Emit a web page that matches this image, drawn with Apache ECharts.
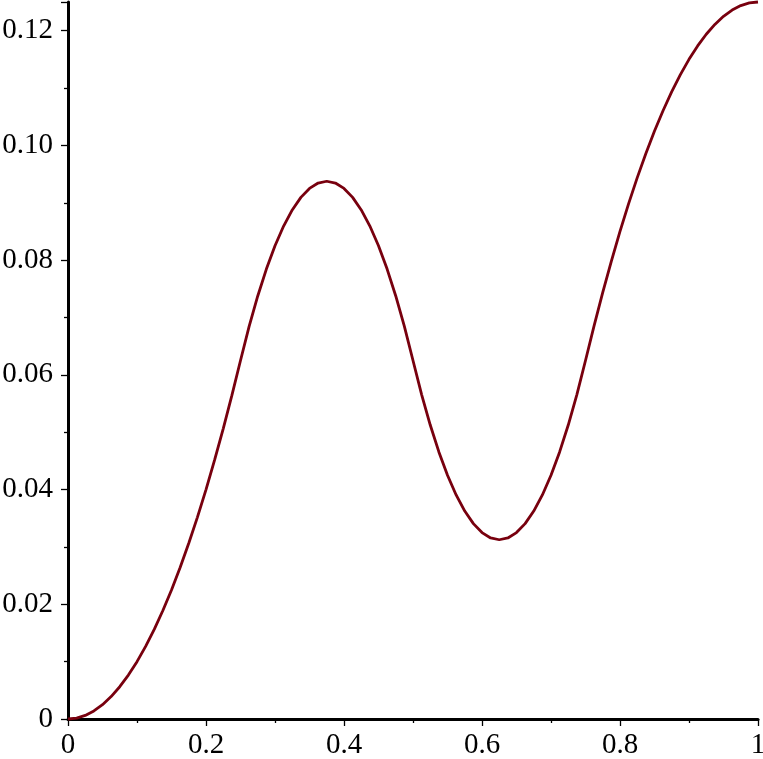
<!DOCTYPE html>
<html>
<head>
<meta charset="utf-8">
<script src="https://cdn.jsdelivr.net/npm/echarts@6/dist/echarts.min.js"></script>
<style>
  html, body { margin: 0; padding: 0; background: #ffffff; overflow: hidden; }
  #chart { width: 763px; height: 759px; }
</style>
</head>
<body>
<div id="chart"></div>
<script>
// x positions (read along the horizontal axis, every 0.0125)
const xValues = [
  0, 0.0125, 0.025, 0.0375, 0.05, 0.0625, 0.075, 0.0875, 0.1, 0.1125,
  0.125, 0.1375, 0.15, 0.1625, 0.175, 0.1875, 0.2, 0.2125, 0.225, 0.2375,
  0.25, 0.2625, 0.275, 0.2875, 0.3, 0.3125, 0.325, 0.3375, 0.35, 0.3625,
  0.375, 0.3875, 0.4, 0.4125, 0.425, 0.4375, 0.45, 0.4625, 0.475, 0.4875,
  0.5, 0.5125, 0.525, 0.5375, 0.55, 0.5625, 0.575, 0.5875, 0.6, 0.6125,
  0.625, 0.6375, 0.65, 0.6625, 0.675, 0.6875, 0.7, 0.7125, 0.725, 0.7375,
  0.75, 0.7625, 0.775, 0.7875, 0.8, 0.8125, 0.825, 0.8375, 0.85, 0.8625,
  0.875, 0.8875, 0.9, 0.9125, 0.925, 0.9375, 0.95, 0.9625, 0.975, 0.9875, 1
];
// curve heights
const yValues = [
  0, 0.00016, 0.00063, 0.00141, 0.0025, 0.00391, 0.00563, 0.00766, 0.01, 0.01266,
  0.01563, 0.01891, 0.0225, 0.02641, 0.03063, 0.03516, 0.04, 0.04516, 0.05063, 0.05641,
  0.0625, 0.06844, 0.07375, 0.07844, 0.0825, 0.08594, 0.08875, 0.09094, 0.0925, 0.09344,
  0.09375, 0.09344, 0.0925, 0.09094, 0.08875, 0.08594, 0.0825, 0.07844, 0.07375, 0.06844,
  0.0625, 0.05656, 0.05125, 0.04656, 0.0425, 0.03906, 0.03625, 0.03406, 0.0325, 0.03156,
  0.03125, 0.03156, 0.0325, 0.03406, 0.03625, 0.03906, 0.0425, 0.04656, 0.05125, 0.05656,
  0.0625, 0.06859, 0.07438, 0.07984, 0.085, 0.08984, 0.09438, 0.09859, 0.1025, 0.10609,
  0.10938, 0.11234, 0.115, 0.11734, 0.11938, 0.12109, 0.1225, 0.12359, 0.12438, 0.12484, 0.125
];
const xTickLabels = ['0', '0.2', '0.4', '0.6', '0.8', '1'];
const yTickLabels = ['0', '0.02', '0.04', '0.06', '0.08', '0.10', '0.12'];

const seriesData = xValues.map((x, i) => [x, yValues[i]]);

const chart = echarts.init(document.getElementById('chart'), null, { renderer: 'canvas', width: 763, height: 759 });
const labelFont = { fontFamily: 'Liberation Serif', fontSize: 29, color: '#000000' };
chart.setOption({
  animation: false,
  backgroundColor: '#ffffff',
  grid: { left: 68, right: 5, top: 2, bottom: 40, containLabel: false, outerBoundsMode: 'none' },
  xAxis: {
    type: 'value',
    min: 0, max: 1, interval: 0.2,
    axisLine: { show: true, onZero: false, lineStyle: { color: '#000', width: 3 } },
    axisTick: { show: true, length: 7, lineStyle: { color: '#000', width: 1.3 } },
    minorTick: { show: true, splitNumber: 2, length: 4, lineStyle: { color: '#000', width: 1.3 } },
    splitLine: { show: false },
    axisLabel: Object.assign({
      margin: 12,
      formatter: function (v) {
        const idx = Math.round(v / 0.2);
        return xTickLabels[idx] !== undefined ? xTickLabels[idx] : '';
      }
    }, labelFont)
  },
  yAxis: {
    type: 'value',
    min: 0, max: 0.125, interval: 0.02,
    axisLine: { show: true, onZero: false, lineStyle: { color: '#000', width: 3 } },
    axisTick: { show: true, length: 7, lineStyle: { color: '#000', width: 1.3 } },
    minorTick: { show: true, splitNumber: 2, length: 4, lineStyle: { color: '#000', width: 1.3 } },
    splitLine: { show: false },
    axisLabel: Object.assign({
      margin: 15,
      showMaxLabel: false,
      formatter: function (v) {
        const idx = Math.round(v / 0.02);
        if (Math.abs(v - idx * 0.02) > 1e-9) return '';
        return yTickLabels[idx] !== undefined ? yTickLabels[idx] : '';
      }
    }, labelFont)
  },
  series: [{
    type: 'line',
    data: seriesData,
    smooth: false,
    showSymbol: false,
    clip: false,
    lineStyle: { color: '#78000E', width: 2.8 },
    z: 1
  }]
});
</script>
</body>
</html>
